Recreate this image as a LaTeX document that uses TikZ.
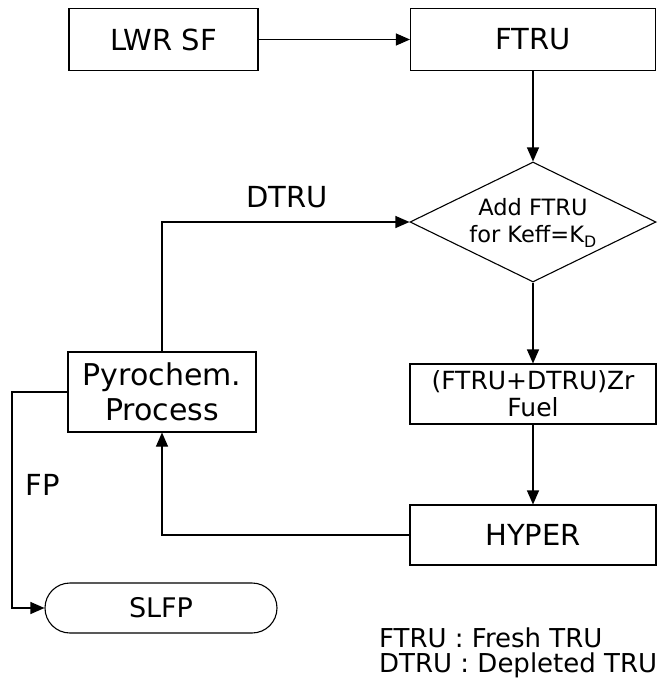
\documentclass[tikz,border=0pt]{standalone}
\usepackage{fontspec}
\setmainfont{DejaVu Sans}
\usetikzlibrary{arrows.meta,shapes.geometric}
\begin{document}
\begin{tikzpicture}[x=1pt,y=-1pt,
  every node/.style={font=\fontsize{29}{34}\selectfont},
  box/.style={draw,line width=1.1pt,rectangle,inner sep=0pt,align=center},
  decision/.style={draw,line width=1.1pt,diamond,inner sep=0pt,
    minimum width=246,minimum height=120},
  terminal/.style={draw,line width=1.1pt,rectangle,rounded corners=25pt,
    inner sep=0pt,minimum width=232,minimum height=50},
  small/.style={font=\fontsize{22.5}{27}\selectfont,align=center,inner sep=0pt},
  flow/.style={draw,line width=1.1pt,-{Triangle[length=14pt,width=12pt]}}]
\useasboundingbox (0,0) rectangle (663,686);

% process blocks
\node[box,minimum width=189,minimum height=62] (lwr) at (163.5,39.5) {LWR SF};
\node[box,minimum width=245,minimum height=62] (ftru) at (533,39.5) {FTRU};
\node[decision] (dia) at (533,222) {};
\node[small] (diatxt) at (533,223) {Add FTRU\\for Keff=K\textsubscript{D}};
\node[box,minimum width=188,minimum height=80,
  font=\fontsize{30}{35}\selectfont] (pyro) at (162,392) {Pyrochem.\\Process};
\node[box,minimum width=246,minimum height=60,
  font=\fontsize{25}{27}\selectfont] (fuel) at (533,394) {(FTRU+DTRU)Zr\\Fuel};
\node[box,minimum width=246,minimum height=60] (hyper) at (533,535) {HYPER};
\node[terminal,font=\fontsize{27}{32}\selectfont] (slfp) at (161,608) {SLFP};

% stream labels
\node (dtrulbl) at (287,197) {DTRU};
\node (fplbl) at (43,485) {FP};

% legend
\node[align=left,anchor=west,inner sep=0pt,font=\fontsize{26}{25}\selectfont]
  (legend) at (379,653) {FTRU : Fresh TRU\\DTRU : Depleted TRU};

% material flows
\draw[flow] (lwr) -- (ftru);
\draw[flow] (ftru) -- (dia);
\draw[flow] (pyro.north) |- (dia.west);
\draw[flow] (dia) -- (fuel);
\draw[flow] (fuel) -- (hyper);
\draw[flow] (hyper.west) -| (pyro.south);
\coordinate (fpturn) at (12,608);
\draw[flow] (pyro.west) -| (fpturn) -- (slfp.west);
\end{tikzpicture}
\end{document}
